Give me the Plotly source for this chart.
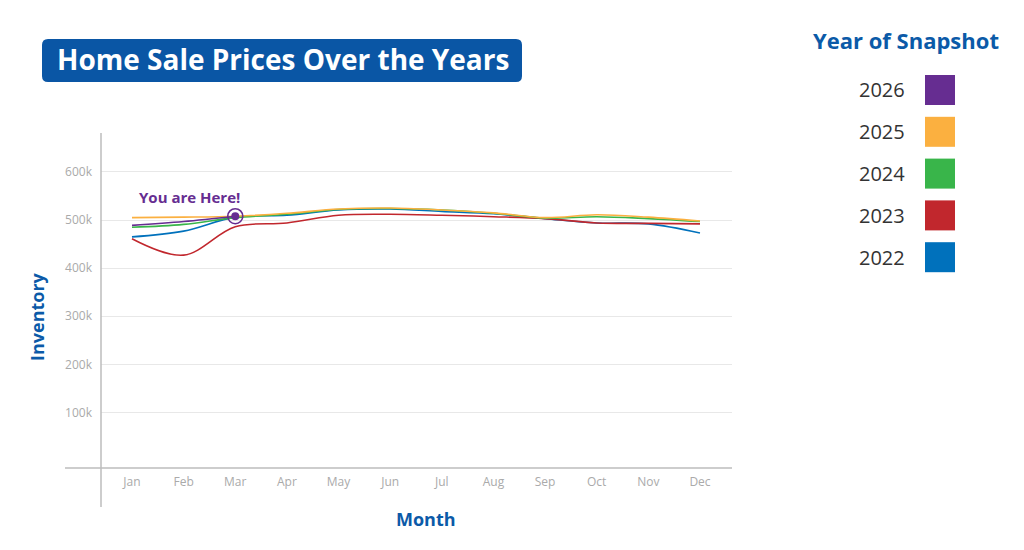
import plotly.graph_objects as go

months = ["Jan", "Feb", "Mar", "Apr", "May", "Jun", "Jul", "Aug", "Sep", "Oct", "Nov", "Dec"]
years = ["2026", "2025", "2024", "2023", "2022"]
colors = ["#662D91", "#FBB040", "#39B54A", "#C1272D", "#0071BC"]

v2026 = [489000, 497000, 508000]
v2025 = [505000, 506000, 508000, 514000, 523000, 525000, 521000, 515000, 505000, 511000, 506000, 498000]
v2024 = [485000, 491000, 505000, 512000, 522000, 524000, 521000, 514000, 504000, 507000, 503000, 497000]
v2023 = [461000, 427000, 486000, 494000, 510000, 512000, 510000, 507000, 503000, 494000, 493000, 492000]
v2022 = [465000, 477000, 506000, 510000, 521000, 523000, 518000, 513000, 503000, 494000, 492000, 473000]

ytick_vals = [100000, 200000, 300000, 400000, 500000, 600000]
ytick_text = ["100k", "200k", "300k", "400k", "500k", "600k"]

series = [v2026, v2025, v2024, v2023, v2022]

BLUE = "#0B5AA8"
FONT = "Open Sans"


def px_x(px):
    return (px - 101) / 631


def px_y(py):
    return (468 - py) / 335


fig = go.Figure()
# draw older years first so 2026 sits on top
for name, col, vals in reversed(list(zip(years, colors, series))):
    fig.add_trace(go.Scatter(
        x=months[:len(vals)], y=vals, mode="lines", name=name,
        line=dict(color=col, width=1.6, shape="spline", smoothing=1.0),
        showlegend=False, hoverinfo="skip"))

# "You are here" marker on the latest 2026 point
fig.add_trace(go.Scatter(x=[months[len(v2026) - 1]], y=[v2026[-1]], mode="markers",
                         marker=dict(size=15, color="rgba(0,0,0,0)", line=dict(color=colors[0], width=1.6)),
                         showlegend=False, hoverinfo="skip"))
fig.add_trace(go.Scatter(x=[months[len(v2026) - 1]], y=[v2026[-1]], mode="markers",
                         marker=dict(size=8, color=colors[0]),
                         showlegend=False, hoverinfo="skip"))

fig.add_annotation(x=months[len(v2026) - 1], y=v2026[-1], text="<b>You are Here!</b>",
                   showarrow=False, xanchor="right", yanchor="bottom", xshift=7, yshift=7,
                   font=dict(family=FONT, size=15, color=colors[0]))

fig.update_layout(
    width=1024, height=550,
    margin=dict(l=101, r=292, t=133, b=82),
    paper_bgcolor="white", plot_bgcolor="white",
    font=dict(family=FONT),
    xaxis=dict(type="category", range=[-0.6, 11.62], showgrid=False, zeroline=False,
               showline=False, ticks="", tickfont=dict(size=12, color="#AAAAAA"),
               ticklabelstandoff=5, fixedrange=True),
    yaxis=dict(range=[-15600, 681000], tickvals=ytick_vals, ticktext=ytick_text,
               showgrid=True, gridcolor="#E8E8E8", gridwidth=1, zeroline=False,
               showline=False, ticks="", tickfont=dict(size=12, color="#AAAAAA"),
               ticklabelstandoff=8, fixedrange=True),
)

# axis lines (crosshair style)
fig.add_shape(type="line", xref="paper", yref="paper", x0=px_x(65), x1=1, y0=0, y1=0,
              line=dict(color="#BDBDBD", width=1.5))
fig.add_shape(type="line", xref="paper", yref="paper", x0=0, x1=0, y0=px_y(507), y1=1,
              line=dict(color="#BDBDBD", width=1.5))

# axis titles
fig.add_annotation(xref="paper", yref="paper", x=px_x(426), y=px_y(519),
                   text="<b>Month</b>", showarrow=False, xanchor="center", yanchor="middle",
                   font=dict(family=FONT, size=18, color=BLUE))
fig.add_annotation(xref="paper", yref="paper", x=px_x(37), y=px_y(317),
                   text="<b>Inventory</b>", showarrow=False, textangle=-90,
                   xanchor="center", yanchor="middle",
                   font=dict(family=FONT, size=18, color=BLUE))

# title box with rounded corners
x0, x1, y0, y1, r = 42, 522, 39, 82, 6
path = (f"M {px_x(x0 + r)} {px_y(y0)} L {px_x(x1 - r)} {px_y(y0)} "
        f"Q {px_x(x1)} {px_y(y0)} {px_x(x1)} {px_y(y0 + r)} "
        f"L {px_x(x1)} {px_y(y1 - r)} Q {px_x(x1)} {px_y(y1)} {px_x(x1 - r)} {px_y(y1)} "
        f"L {px_x(x0 + r)} {px_y(y1)} Q {px_x(x0)} {px_y(y1)} {px_x(x0)} {px_y(y1 - r)} "
        f"L {px_x(x0)} {px_y(y0 + r)} Q {px_x(x0)} {px_y(y0)} {px_x(x0 + r)} {px_y(y0)} Z")
fig.add_shape(type="path", xref="paper", yref="paper", path=path,
              fillcolor="#0A56A5", line=dict(width=0))
fig.add_annotation(xref="paper", yref="paper", x=px_x(283), y=px_y(59),
                   text="<b>Home Sale Prices Over the Years</b>", showarrow=False,
                   xanchor="center", yanchor="middle",
                   font=dict(family=FONT, size=28, color="white"))

# custom legend
fig.add_annotation(xref="paper", yref="paper", x=px_x(906), y=px_y(40),
                   text="<b>Year of Snapshot</b>", showarrow=False,
                   xanchor="center", yanchor="middle",
                   font=dict(family=FONT, size=22, color=BLUE))
for i, (name, col) in enumerate(zip(years, colors)):
    cy = 90 + i * 41.8
    fig.add_annotation(xref="paper", yref="paper", x=px_x(907), y=px_y(cy),
                       text=name, showarrow=False, xanchor="right", yanchor="middle",
                       font=dict(family=FONT, size=20, color="#333333"))
    fig.add_shape(type="rect", xref="paper", yref="paper",
                  x0=px_x(925), x1=px_x(955), y0=px_y(cy - 15), y1=px_y(cy + 15),
                  fillcolor=col, line=dict(width=0))

fig.write_html("out.html")
